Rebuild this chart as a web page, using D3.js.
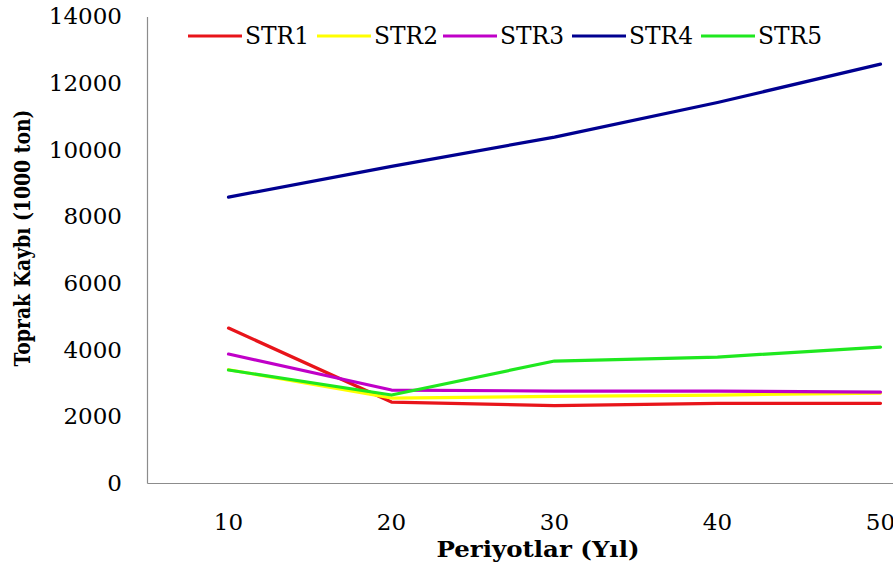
<!DOCTYPE html>
<html>
<head>
<meta charset="utf-8">
<script src="https://cdn.jsdelivr.net/npm/d3@7/dist/d3.min.js"></script>
<style>
  html, body { margin: 0; padding: 0; background: #fff; }
  svg { display: block; }
  .serif, .serif text { font-family: "DejaVu Serif", serif; }
</style>
</head>
<body>
<div id="chart"></div>
<script>
// Soil loss per scenario over the planning periods
const periods = ["10", "20", "30", "40", "50"];
const seriesNames = ["STR1", "STR2", "STR3", "STR4", "STR5"];
const str1 = [4650, 2430, 2320, 2390, 2390];
const str2 = [3400, 2550, 2600, 2640, 2700];
const str3 = [3870, 2790, 2760, 2760, 2730];
const str4 = [8580, 9500, 10380, 11420, 12570];
const str5 = [3390, 2640, 3660, 3780, 4080];
const seriesColors = ["#e8141a", "#ffff00", "#c000c8", "#000090", "#1fe81f"];
const yTicks = [0, 2000, 4000, 6000, 8000, 10000, 12000, 14000];

const seriesValues = [str1, str2, str3, str4, str5];
const series = seriesNames.map((name, i) => ({ name, color: seriesColors[i], values: seriesValues[i] }));

const W = 893, H = 568;
const plotLeft = 147, plotBottom = 483, plotTop = 16.5;
const band = 163;

const svg = d3.select("#chart").append("svg")
  .attr("width", W).attr("height", H)
  .attr("class", "serif");

const x = d3.scaleBand().domain(periods).range([plotLeft, plotLeft + band * periods.length]).padding(0);
const y = d3.scaleLinear().domain([0, 14000]).range([plotBottom, plotTop]);
const cx = d => x(d) + x.bandwidth() / 2;

// y axis
const yAxis = svg.append("g")
  .attr("transform", `translate(${plotLeft},0)`)
  .call(d3.axisLeft(y).tickValues(yTicks).tickSize(0).tickPadding(25).tickFormat(d3.format("d")));
yAxis.attr("font-family", null).attr("font-size", 23);
yAxis.select(".domain").attr("stroke", "#8c8c8c").attr("stroke-width", 1.2);
yAxis.selectAll("text").attr("fill", "#000");

// x axis
const xAxis = svg.append("g")
  .attr("transform", `translate(0,${plotBottom})`)
  .call(d3.axisBottom(x).tickSize(0).tickPadding(31));
xAxis.attr("font-family", null).attr("font-size", 23);
xAxis.select(".domain").attr("stroke", "#8c8c8c").attr("stroke-width", 1.2);
xAxis.selectAll("text").attr("fill", "#000");

// series lines
const line = d3.line()
  .x((d, i) => cx(periods[i]))
  .y(d => y(d));

svg.append("g").selectAll("path")
  .data(series)
  .join("path")
  .attr("d", s => line(s.values))
  .attr("fill", "none")
  .attr("stroke", s => s.color)
  .attr("stroke-width", 3.2)
  .attr("stroke-linejoin", "round")
  .attr("stroke-linecap", "round");

// axis titles
svg.append("text")
  .attr("x", 538).attr("y", 557)
  .attr("text-anchor", "middle")
  .attr("font-size", 23).attr("font-weight", "bold")
  .attr("textLength", 203).attr("lengthAdjust", "spacingAndGlyphs")
  .text("Periyotlar (Yıl)");

svg.append("text")
  .attr("transform", "translate(30,238) rotate(-90)")
  .attr("text-anchor", "middle")
  .attr("font-size", 22).attr("font-weight", "bold")
  .attr("textLength", 257).attr("lengthAdjust", "spacingAndGlyphs")
  .text("Toprak Kaybı (1000 ton)");

// legend
const legendX = [188, 317, 443, 572, 701];
const legend = svg.append("g").selectAll("g")
  .data(series)
  .join("g")
  .attr("transform", (s, i) => `translate(${legendX[i]},36)`);
legend.append("line")
  .attr("x1", 0).attr("x2", 54).attr("y1", 0).attr("y2", 0)
  .attr("stroke", s => s.color).attr("stroke-width", 3.2);
legend.append("text")
  .attr("x", 57).attr("y", 8)
  .attr("font-size", 24)
  .attr("textLength", 64).attr("lengthAdjust", "spacingAndGlyphs")
  .text(s => s.name);
</script>
</body>
</html>
